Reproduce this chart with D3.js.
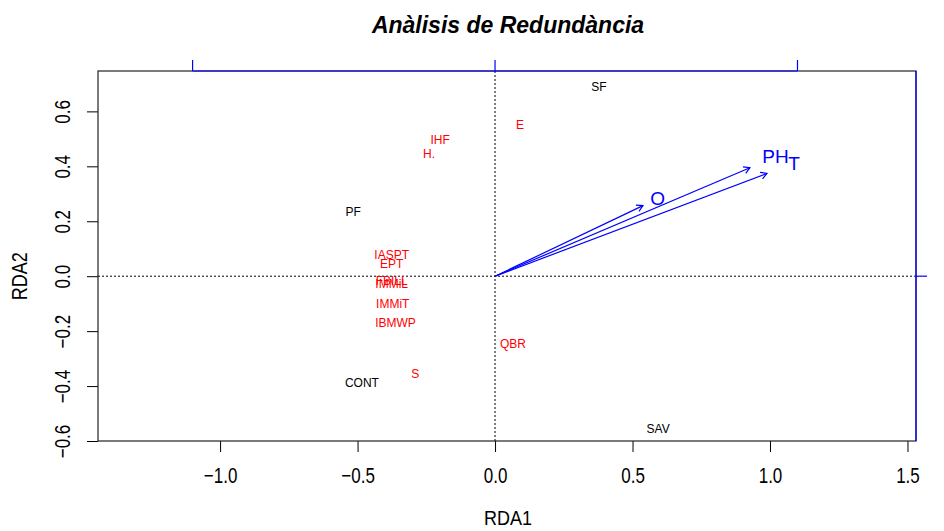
<!DOCTYPE html>
<html>
<head>
<meta charset="utf-8">
<script src="https://cdn.jsdelivr.net/npm/d3@7"></script>
<style>
  body { margin: 0; background: #fff; }
  text { font-family: "Liberation Sans", Arial, sans-serif; }
</style>
</head>
<body>
<div id="rdaChart"></div>
<script>
// Sites (black)
var siteNames = ["SF", "PF", "CONT", "SAV"];
var siteRDA1 = [0.378, -0.516, -0.484, 0.593];
var siteRDA2 = [0.690, 0.233, -0.390, -0.557];

// Species / indices (red)
var speciesNames = ["E", "IHF", "H.", "IASPT", "EPT", "FBILL", "IMMiL", "IMMiT", "IBMWP", "QBR", "S"];
var speciesRDA1 = [0.091, -0.200, -0.240, -0.376, -0.376, -0.376, -0.376, -0.372, -0.362, 0.065, -0.290];
var speciesRDA2 = [0.552, 0.497, 0.446, 0.077, 0.045, -0.016, -0.030, -0.100, -0.172, -0.248, -0.355];

// Environmental vectors (blue arrows)
var envNames = ["O", "PH", "T"];
var envRDA1 = [0.538, 0.927, 0.989];
var envRDA2 = [0.257, 0.395, 0.374];

// Tick labels
var xTicks = [-1.0, -0.5, 0.0, 0.5, 1.0, 1.5];
var yTicks = [-0.6, -0.4, -0.2, 0.0, 0.2, 0.4, 0.6];
var bpTicks = [-1, 0, 1];
var bpMul = 1.1;

var W = 944, H = 531;
var margin = { top: 71, right: 28, bottom: 90, left: 98 };
var width = W - margin.left - margin.right,
    height = H - margin.top - margin.bottom;

var svg = d3.select("#rdaChart")
    .append("svg")
    .attr("width", W)
    .attr("height", H);

var g = svg.append("g")
    .attr("transform", "translate(" + margin.left + "," + margin.top + ")");

var x = d3.scaleLinear().domain([-1.444, 1.531]).range([0, width]);
var y = d3.scaleLinear().domain([-0.6, 0.747]).range([height, 0]);

// Title
svg.append("text")
    .attr("x", margin.left + width / 2 + 1)
    .attr("y", 33)
    .attr("text-anchor", "middle")
    .style("font-size", "23px")
    .style("font-weight", "bold")
    .style("font-style", "italic")
    .text("Anàlisis de Redundància");

// Bottom axis
var xAxis = g.append("g")
    .attr("transform", "translate(0," + height + ")")
    .call(d3.axisBottom(x).tickValues(xTicks).tickSize(11).tickFormat(d3.format(".1f")));
xAxis.select(".domain").remove();
xAxis.selectAll("text")
    .attr("y", 0).attr("dy", null)
    .attr("dominant-baseline", "central")
    .attr("transform", "translate(0,34) scale(1,1.3)")
    .style("font-size", "17px")
    .attr("fill", "#000");

// Left axis
var yAxis = g.append("g")
    .call(d3.axisLeft(y).tickValues(yTicks).tickSize(11).tickFormat(d3.format(".1f")));
yAxis.select(".domain").remove();
yAxis.selectAll("text")
    .attr("x", 0).attr("dy", null)
    .attr("transform", "translate(-36,0) rotate(-90) scale(1,1.3)")
    .attr("text-anchor", "middle")
    .attr("dominant-baseline", "central")
    .style("font-size", "17px")
    .attr("fill", "#000");

// Axis titles
svg.append("text")
    .attr("transform", "translate(" + (margin.left + width / 2 + 1) + ",518) scale(1,1.15)")
    .attr("text-anchor", "middle")
    .attr("dominant-baseline", "central")
    .style("font-size", "18px")
    .text("RDA1");
svg.append("text")
    .attr("transform", "translate(19," + (margin.top + y(0)) + ") rotate(-90) scale(1,1.2)")
    .attr("text-anchor", "middle")
    .attr("dominant-baseline", "central")
    .style("font-size", "18px")
    .text("RDA2");

// Origin lines
g.append("line")
    .attr("x1", 0).attr("x2", width)
    .attr("y1", y(0)).attr("y2", y(0))
    .attr("stroke", "#000").attr("stroke-dasharray", "2,2");
g.append("line")
    .attr("x1", x(0)).attr("x2", x(0))
    .attr("y1", 0).attr("y2", height)
    .attr("stroke", "#000").attr("stroke-dasharray", "2,2");

// Frame
g.append("rect")
    .attr("width", width).attr("height", height)
    .attr("fill", "none").attr("stroke", "#222").attr("stroke-width", 1.2);

// Biplot axes (top and right, blue)
var bpIn = bpTicks.map(function (d) { return d * bpMul; });
var topTicks = bpIn.filter(function (d) { return d >= x.domain()[0] && d <= x.domain()[1]; });
var rightTicks = bpIn.filter(function (d) { return d >= y.domain()[0] && d <= y.domain()[1]; });

g.append("line")
    .attr("x1", x(d3.min(topTicks))).attr("x2", x(d3.max(topTicks)))
    .attr("y1", 0).attr("y2", 0)
    .attr("stroke", "#0000ff").attr("stroke-width", 1.2);
g.selectAll(".topTick").data(topTicks).enter().append("line")
    .attr("x1", function (d) { return x(d); }).attr("x2", function (d) { return x(d); })
    .attr("y1", 0).attr("y2", -11)
    .attr("stroke", "#0000ff").attr("stroke-width", 1.2);
g.append("line")
    .attr("x1", width).attr("x2", width)
    .attr("y1", 0).attr("y2", height)
    .attr("stroke", "#0000ff").attr("stroke-width", 1.2);
g.selectAll(".rightTick").data(rightTicks).enter().append("line")
    .attr("x1", width).attr("x2", width + 11)
    .attr("y1", function (d) { return y(d); }).attr("y2", function (d) { return y(d); })
    .attr("stroke", "#0000ff").attr("stroke-width", 1.2);

// Site labels
g.selectAll(".site").data(siteNames).enter().append("text")
    .attr("x", function (d, i) { return x(siteRDA1[i]); })
    .attr("y", function (d, i) { return y(siteRDA2[i]); })
    .attr("text-anchor", "middle")
    .attr("dominant-baseline", "central")
    .style("font-size", "12px")
    .attr("fill", "#000")
    .text(function (d) { return d; });

// Species labels
g.selectAll(".species").data(speciesNames).enter().append("text")
    .attr("x", function (d, i) { return x(speciesRDA1[i]); })
    .attr("y", function (d, i) { return y(speciesRDA2[i]); })
    .attr("text-anchor", "middle")
    .attr("dominant-baseline", "central")
    .style("font-size", "12px")
    .attr("fill", "#ff0000")
    .text(function (d) { return d; });

// Arrows
var env = envNames.map(function (d, i) { return { name: d, x: envRDA1[i], y: envRDA2[i] }; });
env.forEach(function (d) {
    var x0 = x(0), y0 = y(0), x1 = x(d.x), y1 = y(d.y);
    var a = Math.atan2(y1 - y0, x1 - x0), len = 7, sp = Math.PI / 6;
    g.append("line")
        .attr("x1", x0).attr("y1", y0).attr("x2", x1).attr("y2", y1)
        .attr("stroke", "#0000ff").attr("stroke-width", 1.2);
    g.append("path")
        .attr("d", "M" + (x1 - len * Math.cos(a - sp)) + "," + (y1 - len * Math.sin(a - sp)) +
            "L" + x1 + "," + y1 +
            "L" + (x1 - len * Math.cos(a + sp)) + "," + (y1 - len * Math.sin(a + sp)))
        .attr("fill", "none").attr("stroke", "#0000ff").attr("stroke-width", 1.2);
    g.append("text")
        .attr("x", x(d.x * bpMul))
        .attr("y", y(d.y * bpMul))
        .attr("text-anchor", "middle")
        .attr("dominant-baseline", "central")
        .style("font-size", "19px")
        .attr("fill", "#0000ff")
        .text(d.name);
});
</script>
</body>
</html>
